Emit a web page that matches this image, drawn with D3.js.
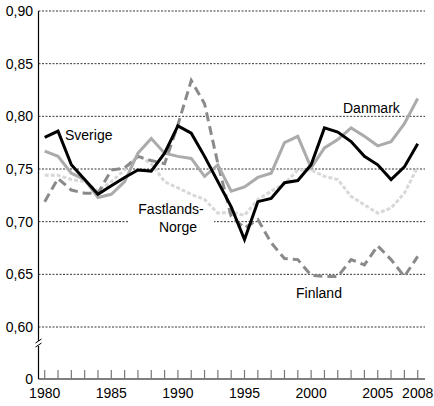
<!DOCTYPE html>
<html>
<head>
<meta charset="UTF-8">
<style>
  body { margin: 0; background: #fff; }
  text { font-family: "Liberation Sans", Arial, sans-serif; }
</style>
</head>
<body>
<svg></svg>
<script src="https://d3js.org/d3.v7.min.js"></script>
<script>
let width = 434, height = 406;

let years = d3.range(1980, 2009);
let sverige = [0.780,0.786,0.754,0.740,0.726,0.734,0.742,0.749,0.748,0.765,0.791,0.784,0.762,0.738,0.714,0.683,0.719,0.722,0.737,0.739,0.754,0.789,0.785,0.776,0.762,0.754,0.740,0.752,0.774];
let danmark = [0.767,0.762,0.746,0.740,0.723,0.726,0.738,0.765,0.779,0.765,0.762,0.760,0.743,0.754,0.729,0.733,0.742,0.746,0.775,0.781,0.751,0.770,0.778,0.789,0.781,0.772,0.776,0.793,0.817];
let finland = [0.719,0.741,0.730,0.727,0.727,0.749,0.751,0.762,0.758,0.755,0.792,0.834,0.812,0.755,0.705,0.694,0.702,0.680,0.665,0.664,0.649,0.648,0.648,0.664,0.659,0.677,0.664,0.648,0.667];
let norge = [0.744,0.744,0.740,0.738,0.729,0.738,0.749,0.763,0.755,0.738,0.732,0.726,0.721,0.708,0.709,0.706,0.721,0.729,0.736,0.749,0.749,0.743,0.740,0.724,0.716,0.708,0.713,0.727,0.752];
let yTicks = [0.60,0.65,0.70,0.75,0.80,0.85,0.90];
let xLabels = [1980,1985,1990,1995,2000,2005,2008];

let svg = d3.select("svg").attr("width", width).attr("height", height);

let x = d3.scaleLinear().domain([1980, 2008]).range([44.7, 417.7]);
let y = d3.scaleLinear().domain([0.60, 0.90]).range([327, 11]);
let yZero = 379, axisX = 38.5;

// gridlines
svg.append("g").selectAll("line").data(yTicks).enter().append("line")
  .attr("x1", axisX).attr("x2", 425)
  .attr("y1", d => y(d)).attr("y2", d => y(d))
  .attr("stroke", "#000").attr("stroke-width", 0.8).attr("stroke-dasharray", "2,1.5");

// y labels
svg.append("g").selectAll("text").data(yTicks).enter().append("text")
  .attr("x", 33).attr("y", d => y(d) + 5).attr("text-anchor", "end")
  .attr("font-size", 14).text(d => d.toFixed(2).replace(".", ","));
svg.append("text").attr("x", 33).attr("y", yZero + 5).attr("text-anchor", "end")
  .attr("font-size", 14).text("0");

// axes
svg.append("line").attr("x1", axisX).attr("x2", axisX).attr("y1", 11).attr("y2", yZero)
  .attr("stroke", "#000").attr("stroke-width", 1.2);
svg.append("line").attr("x1", axisX).attr("x2", 425).attr("y1", yZero).attr("y2", yZero)
  .attr("stroke", "#000").attr("stroke-width", 1.2);
// break mark
svg.append("rect").attr("x", axisX - 4).attr("y", 341).attr("width", 8).attr("height", 5).attr("fill", "#fff");
[341, 345].forEach(v => svg.append("line")
  .attr("x1", axisX - 3).attr("x2", axisX + 3).attr("y1", v + 2).attr("y2", v - 2)
  .attr("stroke", "#000").attr("stroke-width", 1));

// ticks
svg.append("g").selectAll("line").data(years).enter().append("line")
  .attr("x1", d => x(d)).attr("x2", d => x(d)).attr("y1", yZero - 9).attr("y2", yZero)
  .attr("stroke", "#777").attr("stroke-width", 1.2);
svg.append("g").selectAll("text").data(xLabels).enter().append("text")
  .attr("x", d => x(d)).attr("y", 398).attr("text-anchor", "middle")
  .attr("font-size", 14).text(d => d);

// white box behind Fastlands-Norge label
svg.append("rect").attr("x", 128).attr("y", 198).attr("width", 86).attr("height", 40).attr("fill", "#fff");

let line = d3.line().x((d, i) => x(years[i])).y(d => y(d));
let series = [
  { data: norge, color: "#d8d8d8", dash: "4,2", w: 3 },
  { data: finland, color: "#8a8a8a", dash: "9,5", w: 3 },
  { data: danmark, color: "#ababab", dash: null, w: 3 },
  { data: sverige, color: "#000", dash: null, w: 3 }
];
svg.append("g").selectAll("path").data(series).enter().append("path")
  .attr("d", d => line(d.data)).attr("fill", "none")
  .attr("stroke", d => d.color).attr("stroke-width", d => d.w)
  .attr("stroke-dasharray", d => d.dash);

let labels = [
  { t: "Sverige", x: 65, y: 140, a: "start" },
  { t: "Danmark", x: 343, y: 113, a: "start" },
  { t: "Fastlands-", x: 171, y: 214, a: "middle" },
  { t: "Norge", x: 178, y: 232, a: "middle" },
  { t: "Finland", x: 296, y: 298, a: "start" }
];
svg.append("g").selectAll("text").data(labels).enter().append("text")
  .attr("x", d => d.x).attr("y", d => d.y).attr("text-anchor", d => d.a)
  .attr("font-size", 14).text(d => d.t);
</script>
</body>
</html>
